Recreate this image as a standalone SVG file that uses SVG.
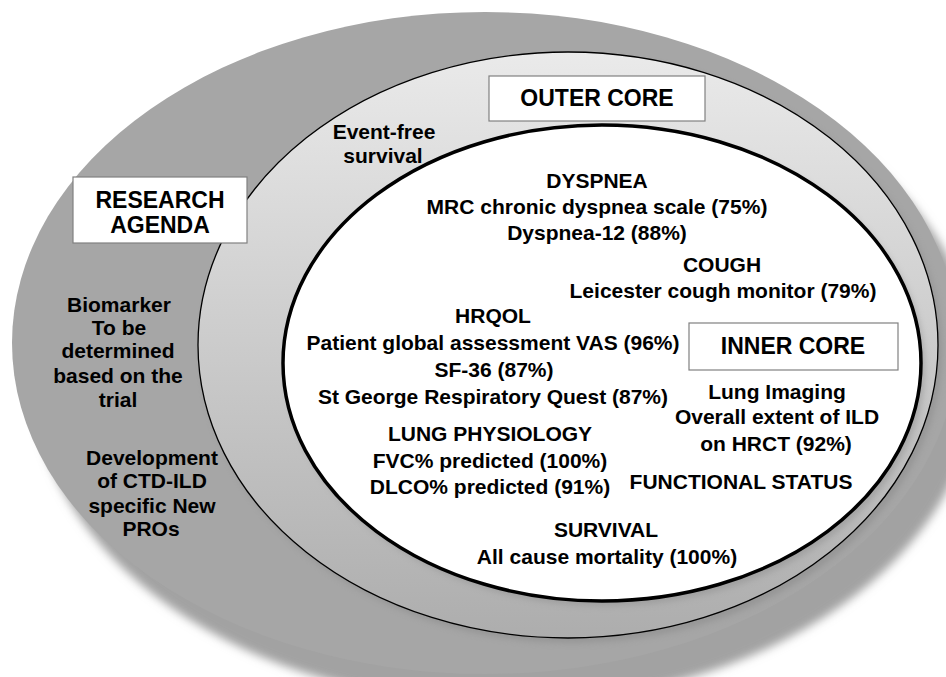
<svg xmlns="http://www.w3.org/2000/svg" width="946" height="677" viewBox="0 0 946 677">
<defs>
<style>
text{font-family:"Liberation Sans",Arial,sans-serif;font-weight:bold;fill:#000;text-anchor:middle;font-size:21px}
.h{font-size:23px}
.box{fill:#fff;stroke:#808080;stroke-width:1.2}
</style>
<linearGradient id="midGrad" x1="0" y1="0" x2="0" y2="1">
<stop offset="0" stop-color="#eaeaea"/>
<stop offset="1" stop-color="#adadad"/>
</linearGradient>
<filter id="blurBig" x="-10%" y="-10%" width="120%" height="120%"><feGaussianBlur stdDeviation="5"/></filter>
<filter id="blurSmall" x="-10%" y="-10%" width="120%" height="120%"><feGaussianBlur stdDeviation="3"/></filter>
</defs>
<rect width="946" height="677" fill="#fff"/>

<g id="research-agenda-ring">
<ellipse cx="505" cy="373" rx="473" ry="331" fill="#a2a2a2" filter="url(#blurBig)"/>
<ellipse cx="485" cy="343" rx="473" ry="331" fill="#a6a6a6"/>
</g>

<g id="outer-core-ring">
<ellipse cx="572" cy="350" rx="370" ry="293" fill="#8c8c8c" opacity="0.6" filter="url(#blurSmall)"/>
<ellipse cx="568" cy="345" rx="370" ry="293" fill="url(#midGrad)" stroke="#000" stroke-width="1.3"/>
</g>

<g id="inner-core-ring">
<ellipse cx="606" cy="368" rx="319" ry="238" fill="#8c8c8c" opacity="0.5" filter="url(#blurSmall)"/>
<ellipse cx="602" cy="363" rx="319" ry="238" fill="#fff" stroke="#000" stroke-width="3.5"/>
</g>

<g id="research-agenda-label">
<rect class="box" x="73" y="177" width="174" height="66"/>
<text class="h" x="160" y="208">RESEARCH</text>
<text class="h" x="160" y="233">AGENDA</text>
</g>

<g id="outer-core-label">
<rect class="box" x="489" y="76" width="216" height="45"/>
<text class="h" x="597" y="106">OUTER CORE</text>
</g>

<g id="inner-core-label">
<rect class="box" x="689" y="323" width="209" height="47"/>
<text class="h" x="793" y="354">INNER CORE</text>
</g>

<g id="event-free-survival">
<text x="384" y="139">Event-free</text>
<text x="383" y="163">survival</text>
</g>

<g id="biomarker">
<text x="119" y="312">Biomarker</text>
<text x="119" y="335">To be</text>
<text x="118" y="358">determined</text>
<text x="118" y="383">based on the</text>
<text x="118" y="407">trial</text>
</g>

<g id="new-pros">
<text x="152" y="465">Development</text>
<text x="152" y="488">of CTD-ILD</text>
<text x="152" y="513">specific New</text>
<text x="151" y="536">PROs</text>
</g>

<g id="dyspnea">
<text x="597" y="188">DYSPNEA</text>
<text x="597" y="214">MRC chronic dyspnea scale (75%)</text>
<text x="597" y="240">Dyspnea-12 (88%)</text>
</g>

<g id="cough">
<text x="722" y="272">COUGH</text>
<text x="723" y="298">Leicester cough monitor (79%)</text>
</g>

<g id="hrqol">
<text x="493" y="323">HRQOL</text>
<text x="493" y="350">Patient global assessment VAS (96%)</text>
<text x="494" y="377">SF-36 (87%)</text>
<text x="493" y="404">St George Respiratory Quest (87%)</text>
</g>

<g id="lung-physiology">
<text x="490" y="441">LUNG PHYSIOLOGY</text>
<text x="490" y="468">FVC% predicted (100%)</text>
<text x="490" y="494">DLCO% predicted (91%)</text>
</g>

<g id="lung-imaging">
<text x="777" y="399">Lung Imaging</text>
<text x="777" y="424">Overall extent of ILD</text>
<text x="776" y="451">on HRCT (92%)</text>
</g>

<g id="functional-status">
<text x="741" y="489">FUNCTIONAL STATUS</text>
</g>

<g id="survival">
<text x="606" y="537">SURVIVAL</text>
<text x="607" y="564">All cause mortality (100%)</text>
</g>
</svg>
